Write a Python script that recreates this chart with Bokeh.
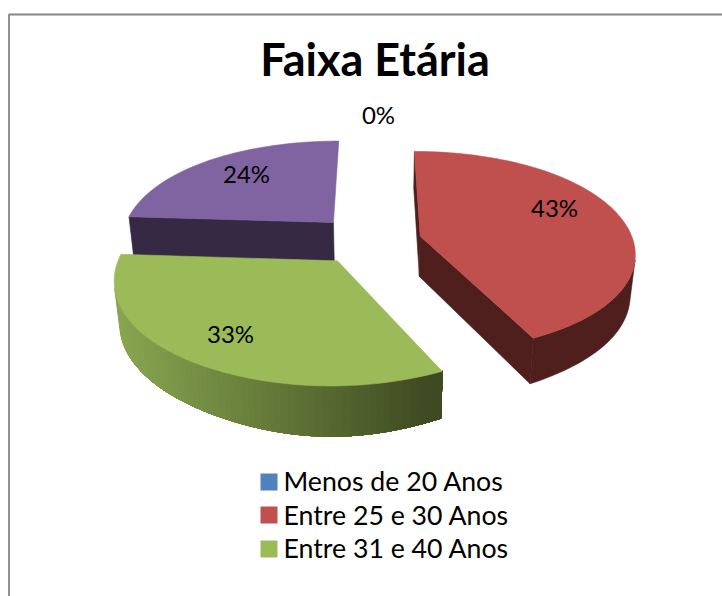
import math
from bokeh.plotting import figure
from bokeh.models import Range1d
from bokeh.core.properties import value
from bokeh.embed import file_html
from bokeh.resources import INLINE

# ---- data ----
title_text = "Faixa Etária"
categories = ["Menos de 20 Anos", "Entre 25 e 30 Anos", "Entre 31 e 40 Anos"]
slice_values = [0, 43, 33, 24]
slice_labels = ["0%", "43%", "33%", "24%"]
top_colors = ["#4F81BD", "#C0504D", "#9BBB59", "#8064A2"]
side_colors = ["#2A4365", "#4F1F1E", None, "#352943"]
green_side_left = (136, 166, 80)
green_side_right = (62, 74, 33)

# ---- layout of the picture, page pixels ----
PAGE_W, PAGE_H = 722, 596
X0, Y0, FX, FY, PERSP = 375.0, 245.0, 220.0, 100.0, 0.15
DEPTH, DEPTH_PERSP = 41.5, 0.02
SQUEEZE, BULGE_TOP, BULGE_BOTTOM = 0.025, 0.01, 0.04
explode = {1: (0.206, 0.095), 2: (-0.169, -0.15), 3: (-0.198, 0.238)}
label_pos = [(378, 114), (554, 207), (230, 333), (246, 173)]


def project(wx, wz, down=0.0):
    s = 1.0 / (1.0 + PERSP * wz + DEPTH_PERSP * down)
    return X0 + FX * wx * s, Y0 - FY * wz * s + DEPTH * down * s


def area(pts):
    total = 0.0
    for (xa, ya), (xb, yb) in zip(pts, pts[1:] + pts[:1]):
        total += xa * yb - xb * ya
    return total


def hexcol(c):
    return "#%02x%02x%02x" % tuple(int(round(v)) for v in c)


def rim_point(ex, ez, t, bulge):
    sn, cs = math.sin(t), math.cos(t)
    return (ex + sn * (1 - SQUEEZE * sn ** 2),
            ez + cs - bulge * max(0.0, -cs) ** 10)


p = figure(width=PAGE_W, height=PAGE_H, output_backend="svg", toolbar_location=None,
           x_range=Range1d(0, PAGE_W), y_range=Range1d(PAGE_H, 0),
           min_border=0, outline_line_color=None, background_fill_color="white",
           border_fill_color="white")
p.xaxis.visible = False
p.yaxis.visible = False
p.grid.visible = False

# chart frame: only the top and left edges show in the picture
p.line([8.5, 8.5, PAGE_W], [PAGE_H, 14, 14], line_color="#868686", line_width=1.8)

total = float(sum(slice_values))
bounds = [0.0]
for v in slice_values:
    bounds.append(bounds[-1] + 360.0 * v / total)


def poly(pts, color):
    p.patch([a for a, _ in pts], [b for _, b in pts], fill_color=color,
            line_color=color, line_width=0.6)


for i in (3, 1, 2):  # back to front
    a0, a1 = bounds[i], bounds[i + 1]
    ex, ez = explode[i]
    n = max(4, int((a1 - a0) / 1.5))
    angles = [math.radians(a0 + (a1 - a0) * k / n) for k in range(n + 1)]
    rim = [project(*rim_point(ex, ez, t, BULGE_TOP)) for t in angles]
    low = [project(*rim_point(ex, ez, t, BULGE_BOTTOM), 1.0) for t in angles]

    apex_t, apex_b = project(ex, ez), project(ex, ez, 1.0)
    side = side_colors[i]
    wall_col = side or hexcol(green_side_right)
    w0 = [apex_t, rim[0], low[0], apex_b]
    if area(w0) < 0:
        poly(w0, wall_col)
    w1 = [apex_t, rim[-1], low[-1], apex_b]
    if area(w1) > 1000:  # the purple slice's back edge shows no wall
        poly(w1, wall_col)

    # outer wall: only the stretch that faces the viewer
    seen = [k for k in range(n) if area([rim[k], rim[k + 1], low[k + 1], low[k]]) < 0]
    if seen:
        if side is not None:
            poly(rim[seen[0]:seen[-1] + 2] + low[seen[0]:seen[-1] + 2][::-1], side)
        else:
            # shaded wall, painted from left to right; each band runs on under the next
            for k in reversed(seen):
                mid = (rim[k][0] + rim[k + 1][0]) / 2
                f = min(1.0, max(0.0, (mid - 118) / (430 - 118)))
                col = hexcol([l + (r - l) * f for l, r in zip(green_side_left, green_side_right)])
                poly(rim[seen[0]:k + 2] + low[seen[0]:k + 2][::-1], col)
    poly([apex_t] + rim, top_colors[i])

# title
p.text([374.5], [58], text=[title_text], text_font=value("Lato"), text_font_style="bold",
       text_font_size="45px", text_color="black", text_align="center",
       text_baseline="middle")

# legend
leg_y = [481.5, 514.5, 548.5]
p.rect([268.5] * 3, leg_y, width=17, height=17, fill_color=top_colors[:3], line_color=None)
p.text([283] * 3, [480, 514, 547], text=categories, text_font=value("Lato"),
       text_font_size="26.7px", text_color="black", text_align="left",
       text_baseline="middle")

# data labels
p.text([q[0] for q in label_pos], [q[1] for q in label_pos], text=slice_labels,
       text_font=value("Lato"), text_font_size="24px", text_color="black",
       text_align="center", text_baseline="middle")

open("out.html", "w").write(file_html(p, INLINE))
